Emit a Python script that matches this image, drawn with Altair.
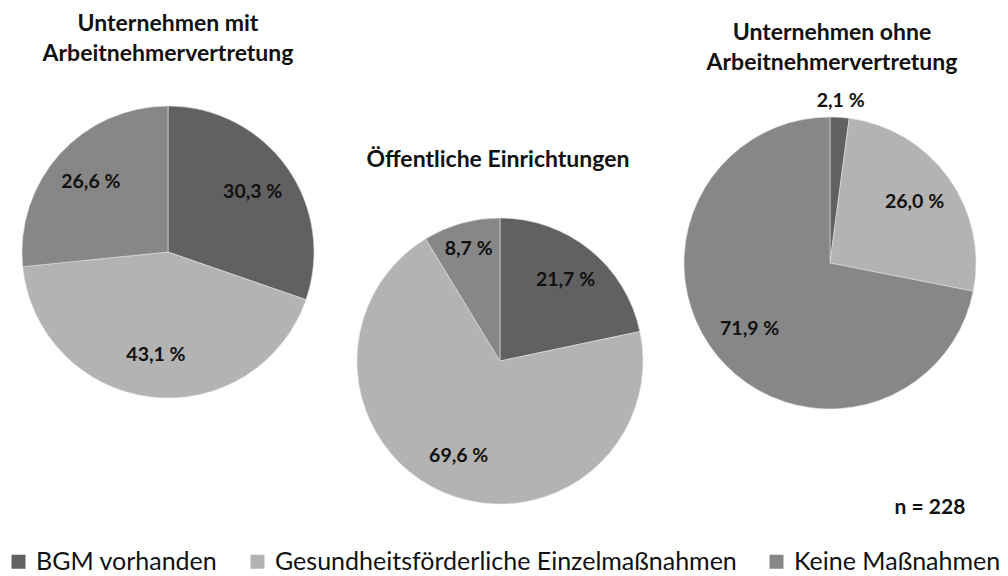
import altair as alt
import pandas as pd

categories = ["BGM vorhanden", "Gesundheitsförderliche Einzelmaßnahmen", "Keine Maßnahmen"]
colors = ["#616161", "#b3b3b3", "#878787"]

mit_values = [30.3, 43.1, 26.6]
oeff_values = [21.7, 69.6, 8.7]
ohne_values = [2.1, 26.0, 71.9]

title_mit = "Unternehmen mit\nArbeitnehmervertretung"
title_oeff = "Öffentliche Einrichtungen"
title_ohne = "Unternehmen ohne\nArbeitnehmervertretung"
n_text = "n = 228"

FONT = "Lato"


def make_df(values):
    return pd.DataFrame({
        "category": categories,
        "value": values,
        "idx": list(range(len(categories))),
        "label": [f"{v:.1f} %".replace(".", ",") for v in values],
    })


color_enc = alt.Color(
    "category:N",
    scale=alt.Scale(domain=categories, range=colors),
    sort=categories,
    legend=alt.Legend(
        title=None,
        orient="none",
        legendX=-2,
        legendY=541,
        direction="horizontal",
        symbolType="square",
        symbolSize=196,
        symbolStrokeWidth=0,
        labelFontSize=25,
        labelFont=FONT,
        labelColor="#111111",
        labelLimit=700,
        labelOffset=5,
        columnPadding=27,
    ),
)


def pie(values, cx, cy, r):
    df = make_df(values)
    arcs = alt.Chart(df).mark_arc(radius=r, stroke="#e0e0e0", strokeWidth=0.6).encode(
        theta=alt.Theta("value:Q", stack=True),
        order=alt.Order("idx:Q"),
        color=color_enc,
        x=alt.value(cx),
        y=alt.value(cy),
    )
    labels = alt.Chart(df).mark_text(
        font=FONT, fontSize=19.5, fontWeight="bold", color="#111111"
    ).transform_stack(
        stack="value", as_=["v0", "v1"], groupby=[], sort=[alt.SortField("idx")]
    ).transform_calculate(
        mid="(datum.v0 + datum.v1) / 2",
        rad="datum.value < 5 ? 162 : (datum.value < 10 ? 116 : 104)",
    ).encode(
        theta=alt.Theta("mid:Q", stack=None),
        radius=alt.Radius("rad:Q", scale=None),
        text="label:N",
        x=alt.value(cx),
        y=alt.value(cy),
    )
    return arcs + labels


def title(text, cx, cy, size=23):
    return alt.Chart(pd.DataFrame({"t": [text]})).mark_text(
        font=FONT, fontSize=size, fontWeight="bold", color="#111111",
        lineBreak="\n", lineHeight=30, baseline="middle",
    ).encode(text="t:N", x=alt.value(cx), y=alt.value(cy))


chart = alt.layer(
    pie(mit_values, 160, 244, 146),
    pie(oeff_values, 492, 353, 143),
    pie(ohne_values, 822, 255, 146),
    title(title_mit, 160, 16),
    title(title_oeff, 490, 152),
    title(title_ohne, 824, 25),
    title(n_text, 922, 500, size=21),
).properties(
    width=992,
    height=568,
    padding=0,
    autosize=alt.AutoSizeParams(type="none"),
).configure_view(stroke=None)

chart.save("out.html", embed_options={"renderer": "svg", "actions": False})
